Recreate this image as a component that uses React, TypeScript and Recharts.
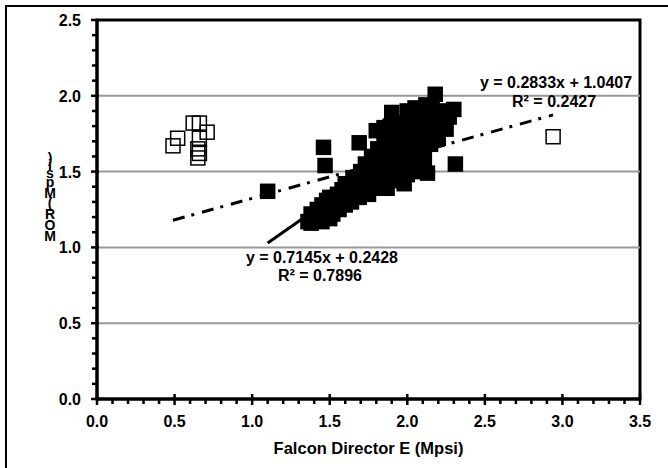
import React from 'react';
import {
    ScatterChart,
    Scatter,
    XAxis,
    YAxis,
    ReferenceLine,
    ReferenceArea,
    ReferenceDot
} from 'recharts';

// MOR vs Falcon Director E - filled = group 1, open = group 2
const filledE = [
    1.10, 1.46, 1.47, 2.31, 2.18, 2.30, 1.90, 1.69, 1.36, 1.38,
    1.40, 1.42, 1.44, 1.45, 1.47, 1.48, 1.50, 1.50, 1.52, 1.53,
    1.55, 1.56, 1.57, 1.58, 1.60, 1.60, 1.62, 1.63, 1.64, 1.65,
    1.66, 1.68, 1.69, 1.70, 1.71, 1.72, 1.73, 1.74, 1.75, 1.76,
    1.77, 1.78, 1.79, 1.80, 1.81, 1.82, 1.83, 1.84, 1.85, 1.86,
    1.87, 1.88, 1.89, 1.90, 1.91, 1.92, 1.93, 1.94, 1.95, 1.96,
    1.97, 1.98, 1.99, 2.00, 2.01, 2.02, 2.03, 2.04, 2.05, 2.06,
    2.07, 2.08, 2.09, 2.10, 2.11, 2.12, 2.13, 2.14, 2.15, 2.16,
    2.17, 2.19, 2.20, 2.22, 2.24, 2.25, 2.27, 1.86, 1.85, 1.80,
    2.05, 2.12, 2.00, 1.98, 1.87, 1.75, 1.38, 1.45, 1.50
];
const filledMOR = [
    1.37, 1.66, 1.54, 1.55, 2.01, 1.91, 1.89, 1.69, 1.17, 1.22,
    1.19, 1.25, 1.21, 1.28, 1.24, 1.31, 1.26, 1.33, 1.22, 1.29,
    1.35, 1.25, 1.31, 1.38, 1.28, 1.42, 1.34, 1.40, 1.30, 1.46,
    1.36, 1.43, 1.33, 1.50, 1.39, 1.46, 1.55, 1.36, 1.42, 1.50,
    1.60, 1.45, 1.39, 1.55, 1.65, 1.48, 1.42, 1.58, 1.72, 1.52,
    1.63, 1.45, 1.80, 1.57, 1.68, 1.50, 1.75, 1.62, 1.44, 1.55,
    1.70, 1.82, 1.60, 1.48, 1.66, 1.76, 1.55, 1.85, 1.62, 1.72,
    1.50, 1.80, 1.66, 1.88, 1.58, 1.75, 1.49, 1.84, 1.68, 1.92,
    1.78, 1.86, 1.72, 1.80, 1.90, 1.78, 1.86, 1.68, 1.79, 1.77,
    1.92, 1.94, 1.90, 1.42, 1.39, 1.35, 1.16, 1.17, 1.19
];
const openE = [0.49, 0.52, 0.62, 0.66, 0.71, 0.66, 0.65, 0.65, 0.66, 2.94];
const openMOR = [1.67, 1.72, 1.82, 1.82, 1.76, 1.72, 1.65, 1.59, 1.62, 1.73];

// trend line end points (Excel linear fits)
const fitAllE = [1.10, 2.31];
const fitAllMOR = [1.029, 1.893];
const fitOpenE = [0.49, 2.94];
const fitOpenMOR = [1.179, 1.874];

const xTicks = [
    0, 0.1, 0.2, 0.3, 0.4, 0.5, 0.6, 0.7, 0.8, 0.9,
    1.0, 1.1, 1.2, 1.3, 1.4, 1.5, 1.6, 1.7, 1.8, 1.9,
    2.0, 2.1, 2.2, 2.3, 2.4, 2.5, 2.6, 2.7, 2.8, 2.9,
    3.0, 3.1, 3.2, 3.3, 3.4, 3.5
];
const yTicks = [
    0, 0.1, 0.2, 0.3, 0.4, 0.5, 0.6, 0.7, 0.8, 0.9,
    1.0, 1.1, 1.2, 1.3, 1.4, 1.5, 1.6, 1.7, 1.8, 1.9,
    2.0, 2.1, 2.2, 2.3, 2.4, 2.5
];
const gridY = [0.5, 1.0, 1.5, 2.0];

const FONT = '"Liberation Sans", Arial, sans-serif';

const toPoints = (xs: number[], ys: number[]) => xs.map((x, i) => ({ x, y: ys[i] }));

const filledData = toPoints(filledE, filledMOR);
const openData = toPoints(openE, openMOR);
const fitAll = toPoints(fitAllE, fitAllMOR);
const fitOpen = toPoints(fitOpenE, fitOpenMOR);

const isMajor = (v: number) => Math.abs(v * 2 - Math.round(v * 2)) < 1e-6;

const XTick = (props: any) => {
    const { x, y, payload } = props;
    const v = payload.value;
    if (!isMajor(v)) {
        return <line x1={x} x2={x} y1={y} y2={y + 5} stroke="#000" strokeWidth={2.5} />;
    }
    return (
        <g>
            <line x1={x} x2={x} y1={y - 5} y2={y + 6} stroke="#000" strokeWidth={2.5} />
            <text x={x} y={y + 28} textAnchor="middle" fontFamily={FONT} fontWeight="bold" fontSize={16} fill="#000">
                {v.toFixed(1)}
            </text>
        </g>
    );
};

const YTick = (props: any) => {
    const { x, y, payload } = props;
    const v = payload.value;
    if (!isMajor(v)) {
        return <line x1={x - 5} x2={x} y1={y} y2={y} stroke="#000" strokeWidth={2.5} />;
    }
    return (
        <g>
            <line x1={x - 6} x2={x + 2} y1={y} y2={y} stroke="#000" strokeWidth={2.5} />
            <text x={x - 16} y={y + 6} textAnchor="end" fontFamily={FONT} fontWeight="bold" fontSize={16} fill="#000">
                {v.toFixed(1)}
            </text>
        </g>
    );
};

const FilledSquare = (props: any) => {
    const { cx, cy } = props;
    return <rect x={cx - 7} y={cy - 7} width={14} height={14} fill="#000" stroke="#000" strokeWidth={1.5} />;
};

const OpenSquare = (props: any) => {
    const { cx, cy } = props;
    return <rect x={cx - 7} y={cy - 7} width={14} height={14} fill="none" stroke="#000" strokeWidth={1.5} />;
};

const noShape = () => <g />;

const eqLabel = (text: string) => (props: any) => (
    <text x={props.cx} y={props.cy} textAnchor="middle" fontFamily={FONT} fontWeight="bold" fontSize={16} fill="#000">
        {text}
    </text>
);

// y-axis title came out with every glyph stacked, bottom to top
const yTitleChars = ['M', 'O', 'R', '(', 'M', 'p', 's', 'i', ')'];
const yTitleBase = [241, 230, 219, 208, 198, 187, 178, 170, 163];

const App: React.FC = () => {
    return (
        <div style={{ position: 'absolute', left: 0, top: 0, width: 668, height: 468, background: '#fff' }}>
            <ScatterChart width={668} height={468} margin={{ top: 20, right: 28, bottom: 0, left: 0 }}>
                <XAxis
                    type="number"
                    dataKey="x"
                    domain={[0, 3.5]}
                    ticks={xTicks}
                    interval={0}
                    tickSize={0}
                    tickMargin={0}
                    tickLine={false}
                    tick={<XTick />}
                    axisLine={{ stroke: '#000', strokeWidth: 3 }}
                    height={69}
                    label={{
                        value: 'Falcon Director E (Mpsi)',
                        position: 'insideBottom',
                        offset: 14,
                        fontFamily: FONT,
                        fontWeight: 'bold',
                        fontSize: 16.5,
                        fill: '#000'
                    }}
                />
                <YAxis
                    type="number"
                    dataKey="y"
                    domain={[0, 2.5]}
                    ticks={yTicks}
                    interval={0}
                    tickSize={0}
                    tickMargin={0}
                    tickLine={false}
                    tick={<YTick />}
                    axisLine={{ stroke: '#000', strokeWidth: 3 }}
                    width={97}
                />
                {gridY.map((g) => (
                    <ReferenceLine key={g} y={g} stroke="#999" strokeWidth={2} />
                ))}
                <ReferenceArea x1={0} x2={3.5} y1={0} y2={2.5} fill="none" stroke="#000" strokeWidth={3} />
                <Scatter data={openData} shape={OpenSquare} isAnimationActive={false} />
                <Scatter data={filledData} shape={FilledSquare} isAnimationActive={false} />
                <Scatter
                    data={fitAll}
                    fill="#000"
                    shape={noShape}
                    line={{ stroke: '#000', strokeWidth: 3 }}
                    isAnimationActive={false}
                />
                <Scatter
                    data={fitOpen}
                    fill="#000"
                    shape={noShape}
                    line={{ stroke: '#000', strokeWidth: 3, strokeDasharray: '12 7 3 8' }}
                    isAnimationActive={false}
                />
                <ReferenceDot x={1.45} y={0.897} r={0} ifOverflow="visible" shape={eqLabel('y = 0.7145x + 0.2428')} />
                <ReferenceDot x={1.437} y={0.778} r={0} ifOverflow="visible" shape={eqLabel('R² = 0.7896')} />
                <ReferenceDot x={2.959} y={2.051} r={0} ifOverflow="visible" shape={eqLabel('y = 0.2833x + 1.0407')} />
                <ReferenceDot x={2.946} y={1.926} r={0} ifOverflow="visible" shape={eqLabel('R² = 0.2427')} />
            </ScatterChart>
            <svg width={668} height={468} style={{ position: 'absolute', left: 0, top: 0, pointerEvents: 'none' }}>
                <text fontFamily={FONT} fontWeight="bold" fontSize={14} fill="#000" textAnchor="middle">
                    {yTitleChars.map((c, i) => (
                        <tspan key={i} x={50} y={yTitleBase[i]}>{c}</tspan>
                    ))}
                </text>
            </svg>
            {/* chart frame - only the top and left edges fall inside the picture */}
            <div
                style={{
                    position: 'absolute',
                    left: 5,
                    top: 5,
                    width: 663,
                    height: 463,
                    borderTop: '2px solid #000',
                    borderLeft: '2px solid #000',
                    pointerEvents: 'none'
                }}
            />
        </div>
    );
};

export default App;
